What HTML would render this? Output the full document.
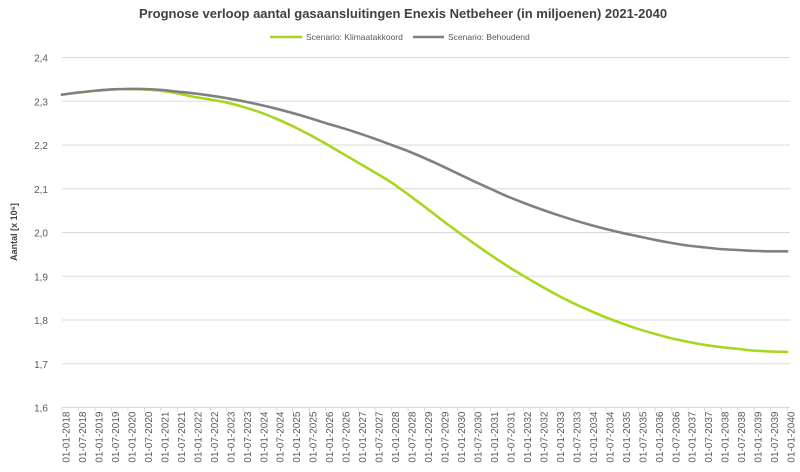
<!DOCTYPE html>
<html><head><meta charset="utf-8"><style>
html,body{margin:0;padding:0;background:#fff;}
svg{display:block;font-family:"Liberation Sans",sans-serif;}
</style></head><body>
<svg id="chart" width="800" height="472" viewBox="0 0 800 472">
<text x="403" y="18" text-anchor="middle" font-size="13" font-weight="bold" fill="#404040">Prognose verloop aantal gasaansluitingen Enexis Netbeheer (in miljoenen) 2021-2040</text>
<g>
<g>
<line x1="270" y1="37" x2="302" y2="37" stroke="#a8d51f" stroke-width="2.5"/>
<text x="306" y="40" font-size="8.5" fill="#595959">Scenario: Klimaatakkoord</text></g>
<g>
<line x1="413" y1="37" x2="444" y2="37" stroke="#808080" stroke-width="2.5"/>
<text x="448" y="40" font-size="8.5" fill="#595959">Scenario: Behoudend</text></g>
</g>
<text transform="translate(17,232) rotate(-90)" text-anchor="middle" font-size="9" font-weight="bold" fill="#404040">Aantal [x 10⁶]</text>
<g id="grid"></g><g id="yticks"></g><g id="xticks"></g><g id="series"></g>
</svg>
<script>
const yTicks = [1.6,1.7,1.8,1.9,2.0,2.1,2.2,2.3,2.4];
const categories = [];
for (let y = 2018; y <= 2040; y++) { categories.push('01-01-' + y); if (y < 2040) categories.push('01-07-' + y); }
const klimaat = [2.315,2.320,2.324,2.327,2.328,2.327,2.324,2.318,2.310,2.304,2.297,2.287,2.275,2.260,2.243,2.224,2.203,2.181,2.159,2.137,2.114,2.087,2.059,2.030,2.002,1.975,1.949,1.924,1.901,1.879,1.858,1.839,1.822,1.806,1.792,1.779,1.768,1.758,1.750,1.743,1.738,1.734,1.730,1.728,1.727];
const behoudend = [2.315,2.320,2.324,2.327,2.328,2.328,2.326,2.322,2.318,2.313,2.307,2.300,2.292,2.283,2.273,2.262,2.250,2.239,2.227,2.214,2.200,2.186,2.170,2.153,2.135,2.117,2.100,2.083,2.068,2.054,2.041,2.029,2.018,2.008,1.999,1.991,1.983,1.976,1.970,1.966,1.962,1.960,1.958,1.957,1.957];

const NS = 'http://www.w3.org/2000/svg';
const X0 = 62, XSTEP = 16.48, YTOP = 57.5, YBOT = 407.5, YMIN = 1.6, YMAX = 2.4;
const xScale = i => X0 + i * XSTEP;
const yScale = v => YBOT - (v - YMIN) / (YMAX - YMIN) * (YBOT - YTOP);
function mk(tag, attrs, parent) { const e = document.createElementNS(NS, tag); for (const k in attrs) e.setAttribute(k, attrs[k]); parent.appendChild(e); return e; }

const grid = document.getElementById('grid'), yt = document.getElementById('yticks');
yTicks.forEach(v => {
  const l = mk('line', {x1: 62, x2: 790, y1: yScale(v), y2: yScale(v), stroke: '#d9d9d9', 'stroke-width': 1}, grid);
  
  
  const t = mk('text', {x: 48, y: yScale(v) + 4, 'text-anchor': 'end', 'font-size': 10, fill: '#595959'}, yt);
  t.textContent = v.toFixed(1).replace('.', ',');
  
  
});
const xt = document.getElementById('xticks');
categories.forEach((c, i) => {
  const x = xScale(i);
  const tk = mk('line', {x1: x, x2: x, y1: YBOT, y2: YBOT + 4, stroke: '#d9d9d9'}, xt);
  
  
  const t = mk('text', {transform: `translate(${x + 7.5},${YBOT + 4}) rotate(-90)`, 'text-anchor': 'end', 'font-size': 10, fill: '#595959'}, xt);
  t.textContent = c;
  
  
});
const s = document.getElementById('series');
function drawLine(vals, color, name) {
  const pts = vals.map((v, i) => [xScale(i), yScale(v)]);
  let d = 'M' + pts[0][0] + ',' + pts[0][1];
  for (let i = 0; i < pts.length - 1; i++) {
    const p0 = pts[Math.max(0, i - 1)], p1 = pts[i], p2 = pts[i + 1], p3 = pts[Math.min(pts.length - 1, i + 2)];
    const c1x = p1[0] + (p2[0] - p0[0]) / 6, c1y = p1[1] + (p2[1] - p0[1]) / 6;
    const c2x = p2[0] - (p3[0] - p1[0]) / 6, c2y = p2[1] - (p3[1] - p1[1]) / 6;
    d += ` C${c1x},${c1y} ${c2x},${c2y} ${p2[0]},${p2[1]}`;
  }
  const p = mk('path', {d: d, fill: 'none', stroke: color, 'stroke-width': 2.6, 'stroke-linecap': 'round', 'stroke-linejoin': 'round'}, s);
  
  
}
drawLine(klimaat, '#a8d51f', 'line-klimaatakkoord');
drawLine(behoudend, '#808080', 'line-behoudend');
</script>
</body></html>
